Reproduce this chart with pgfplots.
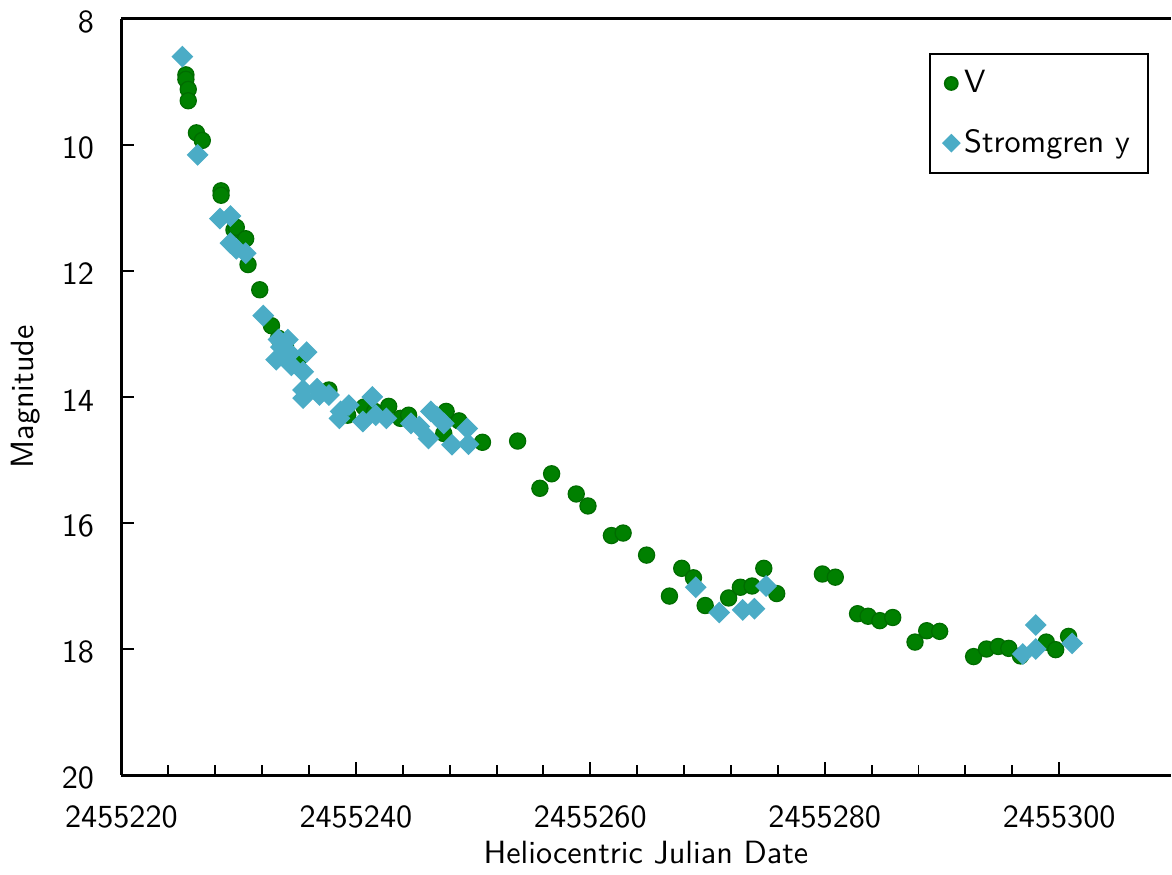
\documentclass[border=0pt]{standalone}
\usepackage{pgfplots}
\pgfplotsset{compat=1.18}
\renewcommand{\familydefault}{\sfdefault}
\definecolor{vgreen}{RGB}{0,128,0}
\definecolor{ycyan}{RGB}{75,172,198}

% x = HJD - 2455200
\pgfplotstableread{
x y
25.5 8.89
25.5 8.96
25.7 9.12
25.7 9.30
26.4 9.81
26.9 9.93
28.5 10.73
28.5 10.80
29.6 11.35
29.8 11.31
30.6 11.49
30.8 11.90
31.8 12.30
32.8 12.87
33.4 13.07
34.0 13.20
35.0 13.45
37.7 13.89
39.3 14.29
40.7 14.16
41.6 14.23
42.8 14.15
43.8 14.34
44.5 14.29
47.5 14.58
47.7 14.23
48.8 14.38
50.8 14.72
53.8 14.70
55.7 15.45
56.7 15.22
58.8 15.54
59.8 15.73
61.8 16.20
62.8 16.16
64.8 16.51
66.75 17.16
67.8 16.72
68.8 16.87
69.8 17.31
71.8 17.19
72.8 17.02
73.8 17.00
74.8 16.72
75.9 17.12
79.8 16.81
80.9 16.86
82.8 17.44
83.7 17.48
84.7 17.55
85.8 17.50
87.7 17.89
88.7 17.71
89.8 17.72
92.7 18.12
93.8 18.00
94.8 17.96
95.7 17.99
96.7 18.11
98.9 17.89
99.7 18.01
100.8 17.80
}\vdata

\pgfplotstableread{
x y
25.2 8.60
26.5 10.16
28.4 11.17
29.3 11.13
29.3 11.56
29.8 11.65
30.6 11.72
32.1 12.71
33.4 13.09
33.6 13.21
33.2 13.41
34.2 13.09
34.4 13.31
34.5 13.50
35.5 13.60
35.8 13.29
35.5 13.89
35.5 14.02
36.7 13.87
36.9 13.97
37.7 13.97
38.7 14.23
38.6 14.34
39.4 14.13
40.6 14.39
41.4 14.00
41.7 14.29
42.6 14.34
44.7 14.42
45.4 14.47
46.4 14.23
46.2 14.66
46.9 14.31
47.5 14.42
48.2 14.76
49.5 14.50
49.6 14.75
69.0 17.02
71.0 17.42
73.0 17.38
74.0 17.36
75.0 17.00
96.9 18.08
98.0 17.62
98.0 18.00
101.1 17.91
}\ydata

\begin{document}
\begin{tikzpicture}
\begin{axis}[
    scale only axis,
    width=326pt, height=235pt,
    xmin=20, xmax=109.5,
    ymin=8, ymax=20,
    y dir=reverse,
    axis x line=box,
    axis y line*=left,
    xtick={20,40,60,80,100},
    xticklabels={2455220,2455240,2455260,2455280,2455300},
    minor x tick num=4,
    ytick={8,10,...,20},
    xtick pos=bottom, ytick pos=left,
    tick align=inside,
    major tick length=4pt, minor tick length=3pt,
    tick style={black, line width=0.6pt},
    axis line style={line width=0.9pt},
    /pgf/number format/assume math mode=true,
    xticklabel style={yshift=-6pt},
    yticklabel style={xshift=-5pt, yshift=-1pt},
    xlabel={Heliocentric Julian Date},
    ylabel={Magnitude},
    xlabel style={yshift=3pt},
    legend style={at={(0.979,0.955)}, anchor=north east, draw=black,
        line width=0.6pt, row sep=6pt, inner xsep=4pt, inner ysep=3pt,
        cells={anchor=west}, nodes={inner xsep=1.5pt}},
    legend image code/.code={\draw[#1, every mark/.append style={scale=0.8}]
        plot coordinates {(0.38cm,0cm)};},
    legend cell align=left,
]
\addplot[only marks, mark=*, mark size=2.5pt, color=vgreen,
    mark options={fill=vgreen, draw=vgreen!85!black}] table[x=x, y=y] {\vdata};
\addplot[only marks, mark=square*, mark size=2.2pt, color=ycyan,
    mark options={fill=ycyan, draw=ycyan, rotate=45}] table[x=x, y=y] {\ydata};
\legend{V, Stromgren y}
\end{axis}
\end{tikzpicture}
\end{document}
